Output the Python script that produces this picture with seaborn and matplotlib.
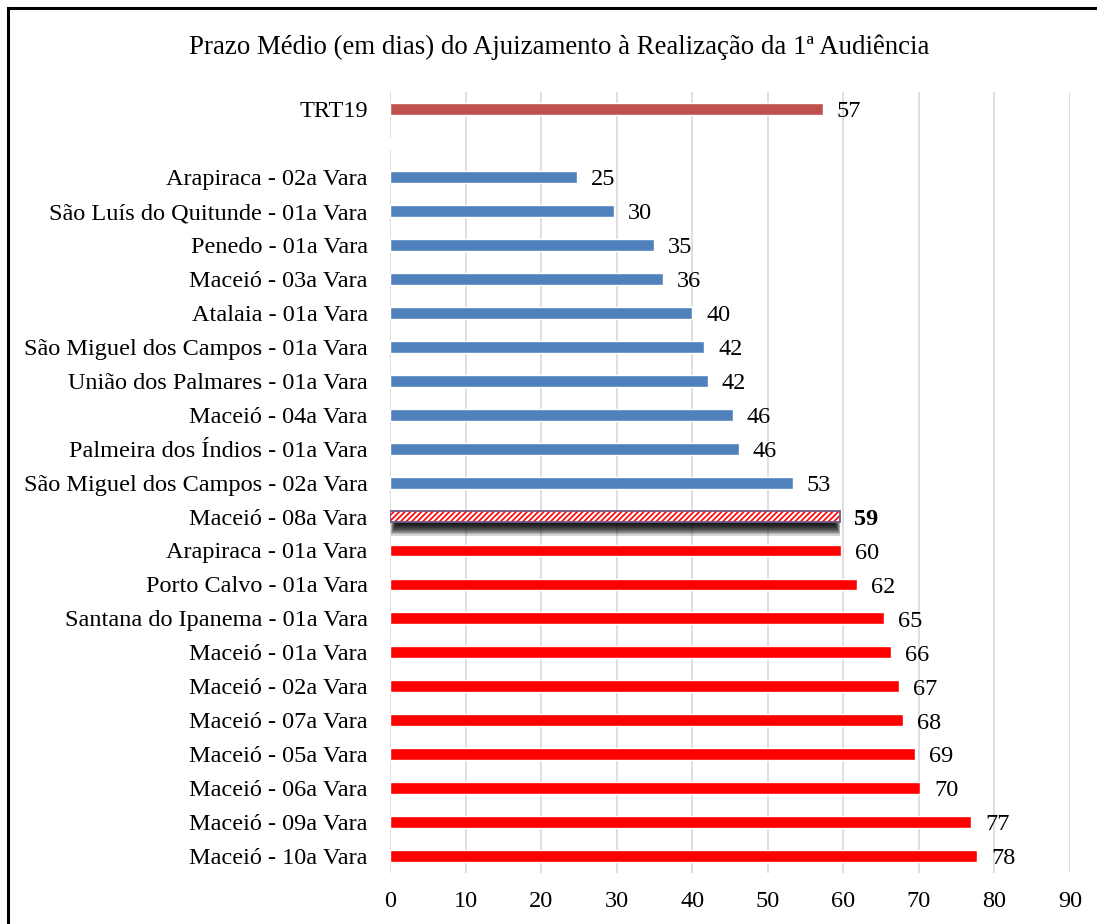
import pandas as pd
import matplotlib.pyplot as plt
import matplotlib.patches as mpatches
import seaborn as sns

# Data
categories = [
    'TRT19', ' ',
    'Arapiraca - 02a Vara', 'São Luís do Quitunde - 01a Vara', 'Penedo - 01a Vara',
    'Maceió - 03a Vara', 'Atalaia - 01a Vara', 'São Miguel dos Campos - 01a Vara',
    'União dos Palmares - 01a Vara', 'Maceió - 04a Vara', 'Palmeira dos Índios - 01a Vara',
    'São Miguel dos Campos - 02a Vara', 'Maceió - 08a Vara', 'Arapiraca - 01a Vara',
    'Porto Calvo - 01a Vara', 'Santana do Ipanema - 01a Vara', 'Maceió - 01a Vara',
    'Maceió - 02a Vara', 'Maceió - 07a Vara', 'Maceió - 05a Vara', 'Maceió - 06a Vara',
    'Maceió - 09a Vara', 'Maceió - 10a Vara',
]
values = [57.3, 0, 24.8, 29.6, 34.9, 36.1, 40.0, 41.6, 42.1, 45.4, 46.2, 53.3,
          59.6, 59.7, 61.8, 65.4, 66.3, 67.4, 67.9, 69.5, 70.2, 76.9, 77.7]
labels = ['57', '', '25', '30', '35', '36', '40', '42', '42', '46', '46', '53',
          '59', '60', '62', '65', '66', '67', '68', '69', '70', '77', '78']
groups = ['total', 'total'] + ['below'] * 10 + ['highlight'] + ['above'] * 10

highlight = 'Maceió - 08a Vara'

df = pd.DataFrame({'vara': categories, 'dias': values, 'grupo': groups})

palette = {'total': '#C0504D', 'below': '#4F81BD', 'highlight': '#FFFFFF', 'above': '#FF0000'}

sns.set_style('white')
plt.rcParams['font.family'] = ['Liberation Serif', 'DejaVu Serif']
plt.rcParams['text.color'] = 'black'
plt.rcParams['xtick.color'] = 'black'
plt.rcParams['ytick.color'] = 'black'
plt.rcParams['hatch.linewidth'] = 1.2

fs = 17.5

fig = plt.figure(figsize=(10.97, 9.24), dpi=100)
ax = fig.add_axes([0.3555, 0.0552, 0.6199, 0.845])

sns.barplot(data=df, x='dias', y='vara', hue='grupo', palette=palette,
            order=categories, orient='h', width=0.35, dodge=False,
            saturation=1, legend=False, ax=ax, zorder=3)

# find the highlighted bar and restyle it
idx = categories.index(highlight)
bars = [p for p in ax.patches if isinstance(p, mpatches.Rectangle)]
target = None
for p in bars:
    cy = p.get_y() + p.get_height() / 2
    if abs(cy - idx) < 0.01 and p.get_width() > 0:
        target = p
target.set_facecolor('white')
target.set_edgecolor('#FF0000')
target.set_hatch('//////')
target.set_linewidth(0)

x0, y0 = target.get_x(), target.get_y()
w, h = target.get_width(), target.get_height()
ax.add_patch(mpatches.Rectangle((x0, y0), w, h, fill=False,
                                edgecolor='#6A5A8A', linewidth=1.3, zorder=4))
# soft shadow under the highlighted bar (stacked translucent layers)
n = 12
for k in range(n):
    ax.add_patch(mpatches.Rectangle((x0 + 0.1 + k * 0.07, y0 + h * 0.8),
                                    w - 0.1 - k * 0.14, h * (0.2 + 1.1 * (n - k) / n),
                                    facecolor='black', edgecolor='none',
                                    alpha=0.17, zorder=2.5))

# value labels
for p in bars:
    cy = p.get_y() + p.get_height() / 2
    i = int(round(cy))
    if labels[i] == '':
        continue
    ax.annotate(labels[i], (p.get_width(), cy), xytext=(10, -2),
                textcoords='offset points', va='center', ha='left',
                fontsize=fs, fontweight='bold' if categories[i] == highlight else 'normal')

ax.set_xlim(0, 90)
ax.set_xticks(range(0, 91, 10))
ax.xaxis.grid(True, color='#D9D9D9', linewidth=1.2, zorder=0)
ax.set_axisbelow(True)
ax.set_xlabel('')
ax.set_ylabel('')
for s in ax.spines.values():
    s.set_visible(False)
ax.tick_params(axis='y', length=0, pad=16, labelsize=fs)
ax.tick_params(axis='x', length=0, pad=13, labelsize=fs)

fig.text(0.51, 1 - 47 / 924, 'Prazo Médio (em dias) do Ajuizamento à Realização da 1ª Audiência',
         ha='center', va='center', fontsize=19.4)

# outer frame of the chart area
fig.patches.append(mpatches.Rectangle((8 / 1097, -0.1), 1.2, 1 - 8 / 924 + 0.1,
                                      transform=fig.transFigure, fill=False,
                                      edgecolor='black', linewidth=2.2))

fig.savefig('out.png', dpi=100)
